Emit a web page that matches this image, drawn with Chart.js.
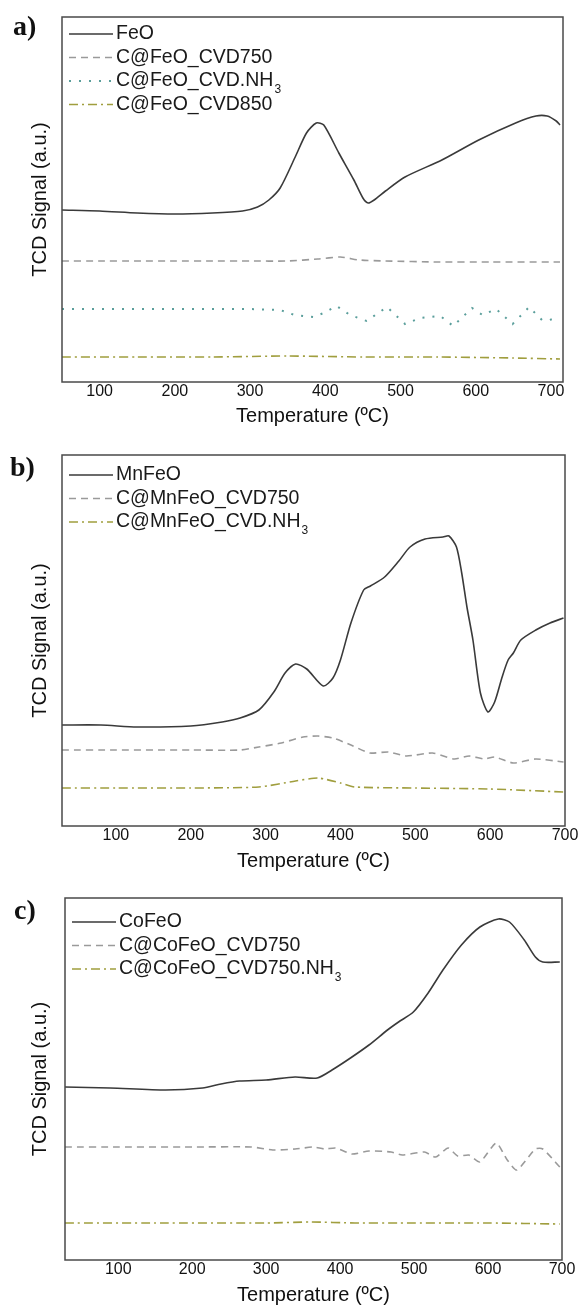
<!DOCTYPE html>
<html>
<head>
<meta charset="utf-8">
<script src="https://cdn.jsdelivr.net/npm/chart.js@4.4.1/dist/chart.umd.min.js"></script>
<style>
  html, body { margin: 0; padding: 0; background: #fff; }
  .panel { position: absolute; left: 0; width: 579px; }
  .tag { position: absolute; font: bold 28px "Liberation Serif", "Times New Roman", serif; color: #111; line-height: 1; }
</style>
</head>
<body>
<div class="panel" style="top:0px;height:440px"><canvas id="chartA" width="579" height="440"></canvas></div>
<div class="panel" style="top:440px;height:440px"><canvas id="chartB" width="579" height="440"></canvas></div>
<div class="panel" style="top:880px;height:427px"><canvas id="chartC" width="579" height="427"></canvas></div>
<div class="tag" style="left:13px;top:12px">a)</div>
<div class="tag" style="left:10px;top:453px">b)</div>
<div class="tag" style="left:14px;top:896px">c)</div>

<script>
// tick labels shared by the three panels
const xTicks = [100, 200, 300, 400, 500, 600, 700];

// a) FeO family
const tempFeO = [50, 100, 150, 200, 250, 290, 310, 325, 340, 360, 375, 388, 398, 418, 438, 450, 457, 465, 480, 506, 555, 604, 653, 680, 695, 707, 712];
const sigFeO = [172, 171, 169, 168, 169, 171, 175, 182, 194, 225, 249, 259, 257, 229, 202, 184, 179, 182, 191, 205, 222, 242, 259, 266, 266, 261, 257];
const tempFeO750 = [50, 100, 150, 200, 250, 300, 350, 390, 420, 445, 480, 550, 620, 712];
const sigFeO750 = [121, 121, 121, 121, 121, 121, 121, 123, 125, 122, 121, 120, 120, 120];
const tempFeONH3 = [50, 100, 150, 200, 250, 300, 340, 359, 384, 398, 415, 433, 455, 482, 506, 526, 553, 570, 595, 609, 627, 649, 671, 688, 698, 710];
const sigFeONH3 = [73, 73, 73, 73, 73, 73, 72, 67, 65, 69, 76, 67, 61, 75, 58, 64, 66, 56, 74, 67, 73, 58, 75, 62, 62, 65];
const tempFeO850 = [50, 150, 250, 350, 450, 550, 650, 712];
const sigFeO850 = [25, 25, 25, 26, 25, 25, 24, 23];

// b) MnFeO family
const tempMn = [28, 80, 128, 200, 242, 266, 291, 311, 326, 340, 355, 377, 390, 400, 414, 431, 440, 459, 478, 493, 513, 537, 545, 555, 562, 569, 577, 587, 597, 606, 616, 624, 631, 641, 661, 680, 698];
const sigMn = [101, 101, 99, 100, 104, 108, 116, 134, 153, 162, 157, 140, 148, 166, 203, 236, 240, 249, 265, 279, 287, 289, 290, 279, 253, 219, 186, 133, 114, 124, 149, 166, 173, 186, 196, 203, 208];
const tempMn750 = [28, 100, 200, 266, 291, 321, 350, 370, 390, 414, 439, 464, 488, 523, 552, 572, 592, 606, 631, 661, 698];
const sigMn750 = [76, 76, 76, 76, 79, 83, 89, 90, 88, 81, 73, 74, 70, 73, 67, 70, 67, 69, 63, 67, 64];
const tempMnNH3 = [28, 100, 200, 291, 340, 370, 400, 419, 500, 600, 698];
const sigMnNH3 = [38, 38, 38, 39, 45, 48, 43, 39, 38, 37, 34];

// c) CoFeO family
const tempCo = [28, 89, 164, 214, 239, 264, 300, 339, 369, 389, 414, 439, 464, 479, 499, 519, 539, 564, 589, 614, 629, 649, 664, 674, 697];
const sigCo = [173, 172, 170, 172, 176, 179, 180, 183, 182, 190, 202, 215, 230, 238, 248, 267, 290, 315, 333, 341, 338, 320, 303, 298, 298];
const tempCo750 = [28, 100, 200, 280, 309, 339, 364, 379, 394, 416, 439, 469, 484, 514, 529, 546, 559, 574, 589, 611, 626, 639, 664, 674, 697];
const sigCo750 = [113, 113, 113, 113, 110, 111, 113, 111, 112, 106, 109, 108, 105, 108, 103, 112, 104, 105, 98, 117, 100, 90, 111, 111, 93];
const tempCoNH3 = [28, 150, 300, 360, 420, 480, 600, 697];
const sigCoNH3 = [37, 37, 37, 38, 37, 37, 37, 36];

Chart.defaults.font.family = '"Liberation Sans", Arial, sans-serif';
Chart.defaults.color = '#111';

const styles = {
  solid:   { borderColor: '#3a3a3a', borderWidth: 1.6, borderDash: [], tension: 0.25 },
  dashed:  { borderColor: '#9a9a9a', borderWidth: 1.6, borderDash: [7, 5], tension: 0.2 },
  dotted:  { borderColor: '#5a9e9b', borderWidth: 2, borderDash: [2, 8], tension: 0 },
  dashdot: { borderColor: '#a09e3e', borderWidth: 1.6, borderDash: [9, 4, 2, 4], tension: 0.2 }
};

function series(label, xs, ys, style) {
  return Object.assign({
    label: label,
    data: xs.map((x, i) => ({ x: x, y: ys[i] })),
    pointRadius: 0,
    fill: false
  }, styles[style]);
}

// frame round the plot area
const frame = {
  id: 'frame',
  afterDraw(chart) {
    const { ctx, chartArea: a } = chart;
    ctx.save();
    ctx.strokeStyle = '#4a4a4a';
    ctx.lineWidth = 1.5;
    ctx.strokeRect(a.left, a.top, a.right - a.left, a.bottom - a.top);
    ctx.restore();
  }
};

// legend inside the top left corner, with a subscript for the 3 of NH3
const innerLegend = {
  id: 'innerLegend',
  afterDraw(chart, args, opts) {
    const { ctx, chartArea: a } = chart;
    ctx.save();
    chart.data.datasets.forEach((ds, i) => {
      const y = a.top + opts.top + i * opts.step;
      ctx.beginPath();
      ctx.strokeStyle = ds.borderColor;
      ctx.lineWidth = ds.borderWidth;
      ctx.setLineDash(ds.borderDash);
      ctx.moveTo(a.left + 7, y);
      ctx.lineTo(a.left + 51, y);
      ctx.stroke();
      ctx.setLineDash([]);
      ctx.fillStyle = '#1a1a1a';
      ctx.textBaseline = 'middle';
      let text = ds.label, sub = '';
      if (text.endsWith('₃')) { text = text.slice(0, -1); sub = '3'; }
      ctx.font = '19.5px "Liberation Sans", Arial, sans-serif';
      ctx.fillText(text, a.left + 54, y);
      if (sub) {
        const w = ctx.measureText(text).width;
        ctx.font = '12px "Liberation Sans", Arial, sans-serif';
        ctx.fillText(sub, a.left + 55 + w, y + 9);
      }
    });
    ctx.restore();
  }
};

function makePanel(id, p) {
  new Chart(document.getElementById(id), {
    type: 'line',
    data: { datasets: p.datasets },
    plugins: [frame, innerLegend],
    options: {
      responsive: false,
      animation: false,
      layout: { padding: { top: p.top, right: p.right, left: 0, bottom: 0 } },
      plugins: {
        legend: { display: false },
        tooltip: { enabled: false },
        innerLegend: { top: p.legendTop, step: 23.5 }
      },
      scales: {
        x: {
          type: 'linear',
          min: p.xmin,
          max: p.xmax,
          afterBuildTicks: ax => { ax.ticks = xTicks.map(v => ({ value: v })); },
          afterFit: ax => { ax.height = p.xAxisH; },
          grid: { display: false, drawTicks: false },
          border: { display: false },
          ticks: { font: { size: 16 }, padding: 0, maxRotation: 0, autoSkip: false, color: '#111' },
          title: { display: true, text: 'Temperature (ºC)', font: { size: 20 }, color: '#111',
                   padding: { top: 0, bottom: p.titlePad } }
        },
        y: {
          min: 0,
          max: p.ymax,
          afterFit: ax => { ax.width = p.yAxisW; },
          grid: { display: false, drawTicks: false },
          border: { display: false },
          ticks: { display: false },
          title: { display: true, text: 'TCD Signal (a.u.)', font: { size: 20 }, color: '#111',
                   padding: { top: 28, bottom: 0 } }
        }
      }
    }
  });
}

makePanel('chartA', {
  top: 17, right: 16, yAxisW: 62, xAxisH: 58, ymax: 365, xmin: 50, xmax: 716, titlePad: 12, legendTop: 17,
  datasets: [
    series('FeO', tempFeO, sigFeO, 'solid'),
    series('C@FeO_CVD750', tempFeO750, sigFeO750, 'dashed'),
    series('C@FeO_CVD.NH₃', tempFeONH3, sigFeONH3, 'dotted'),
    series('C@FeO_CVD850', tempFeO850, sigFeO850, 'dashdot')
  ]
});

makePanel('chartB', {
  top: 15, right: 14, yAxisW: 62, xAxisH: 54, ymax: 371, xmin: 28, xmax: 700, titlePad: 7, legendTop: 20,
  datasets: [
    series('MnFeO', tempMn, sigMn, 'solid'),
    series('C@MnFeO_CVD750', tempMn750, sigMn750, 'dashed'),
    series('C@MnFeO_CVD.NH₃', tempMnNH3, sigMnNH3, 'dashdot')
  ]
});

makePanel('chartC', {
  top: 18, right: 17, yAxisW: 65, xAxisH: 47, ymax: 362, xmin: 28, xmax: 700, titlePad: 0, legendTop: 24,
  datasets: [
    series('CoFeO', tempCo, sigCo, 'solid'),
    series('C@CoFeO_CVD750', tempCo750, sigCo750, 'dashed'),
    series('C@CoFeO_CVD750.NH₃', tempCoNH3, sigCoNH3, 'dashdot')
  ]
});
</script>
</body>
</html>
